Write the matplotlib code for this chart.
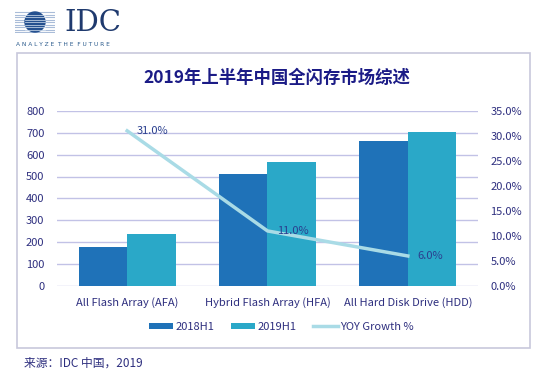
import numpy as np
import matplotlib.pyplot as plt
from matplotlib.patches import Rectangle, Circle
from matplotlib.ticker import FuncFormatter

plt.rcParams['font.family'] = ['Noto Sans CJK SC', 'DejaVu Sans']

# datos
categories = ['All Flash Array (AFA)', 'Hybrid Flash Array (HFA)', 'All Hard Disk Drive (HDD)']
h1_2018 = [180, 510, 663]
h1_2019 = [237, 567, 705]
yoy = [31.0, 11.0, 6.0]
left_ticks = [0, 100, 200, 300, 400, 500, 600, 700, 800]
right_ticks = [0, 5, 10, 15, 20, 25, 30, 35]

navy = '#2e2f7f'
c2018 = '#1f72b8'
c2019 = '#2aa8c8'
cline = '#a9dbe6'
cgrid = '#c2c2e6'

W, H = 554, 378
fig = plt.figure(figsize=(W / 100, H / 100), dpi=100)

def fx(px):
    return px / W

def fy(py):
    return 1 - py / H

# marco
fig.patches.append(Rectangle((fx(17), fy(348)), fx(530) - fx(17), fy(53) - fy(348),
                             transform=fig.transFigure, fill=False,
                             edgecolor='#c8c8dc', lw=1.2))

# logo IDC
logo = fig.add_axes([fx(15), fy(33), fx(40), 22 / H])
logo.set_xlim(-2, 2)
logo.set_ylim(-1.1, 1.1)
logo.axis('off')
for yy in np.linspace(-1.0, 1.0, 9):
    logo.plot([-2, 2], [yy, yy], color='#a9bcd8', lw=0.8, zorder=1)
logo.add_patch(Circle((0, 0), 1.0, color='#24508f', zorder=2))
for yy in np.linspace(-0.75, 0.75, 7):
    logo.plot([-1, 1], [yy, yy], color='#d8e4f2', lw=0.5, zorder=3)
fig.text(fx(64), fy(23), 'IDC', fontsize=21, family='DejaVu Serif', color='#1f3a6e',
         va='center', ha='left')
fig.text(fx(16), fy(44), '  '.join(' '.join(w) for w in ['ANALYZE', 'THE', 'FUTURE']),
         fontsize=4.2, color='#2a5a8c', va='center', ha='left', family='DejaVu Sans')

# título
fig.text(fx(277), fy(78), '2019年上半年中国全闪存市场综述', fontsize=12.5,
         fontweight='bold', color='#1b1b86', ha='center', va='center')

ax = fig.add_axes([fx(57), fy(286), fx(478) - fx(57), fy(110.8) - fy(286)])
x = np.arange(len(categories))
bw = 0.345
ax.bar(x - bw / 2, h1_2018, bw, color=c2018, label='2018H1', zorder=2)
ax.bar(x + bw / 2, h1_2019, bw, color=c2019, label='2019H1', zorder=2)
ax.set_xlim(-0.5, 2.5)
ax.set_ylim(0, 800)
ax.set_yticks(left_ticks)
ax.grid(axis='y', color=cgrid, lw=1, zorder=0)
for s in ax.spines.values():
    s.set_visible(False)
ax.tick_params(axis='y', length=0, pad=9, labelsize=8, labelcolor=navy)
ax.tick_params(axis='x', length=0, pad=8, labelsize=8, labelcolor=navy)
ax.set_xticks(x)
ax.set_xticklabels(categories)

ax2 = ax.twinx()
ax2.plot(x, yoy, color=cline, lw=2.5, label='YOY Growth %', zorder=3)
ax2.set_ylim(0, 35)
ax2.set_yticks(right_ticks)
ax2.yaxis.set_major_formatter(FuncFormatter(lambda v, p: f'{v:.1f}%'))
ax2.tick_params(axis='y', length=0, pad=9, labelsize=8, labelcolor=navy)
for s in ax2.spines.values():
    s.set_visible(False)

for xi, v in zip(x, yoy):
    ax2.annotate(f'{v:.1f}%', (xi, v), xytext=(7, 0), textcoords='offset points',
                 ha='left', va='center', fontsize=8, color='#2a3f8f')

h1, l1 = ax.get_legend_handles_labels()
h2, l2 = ax2.get_legend_handles_labels()
fig.legend(h1 + h2, l1 + l2, loc='center', bbox_to_anchor=(fx(281), fy(327)), ncol=3,
           frameon=False, fontsize=8, labelcolor=navy, handlelength=2.2,
           handleheight=0.5, handletextpad=0.2, columnspacing=1.5)

fig.text(fx(24), fy(363), '来源：IDC 中国，2019', fontsize=8.5, color=navy,
         ha='left', va='center')

fig.savefig('out.png', dpi=100)
